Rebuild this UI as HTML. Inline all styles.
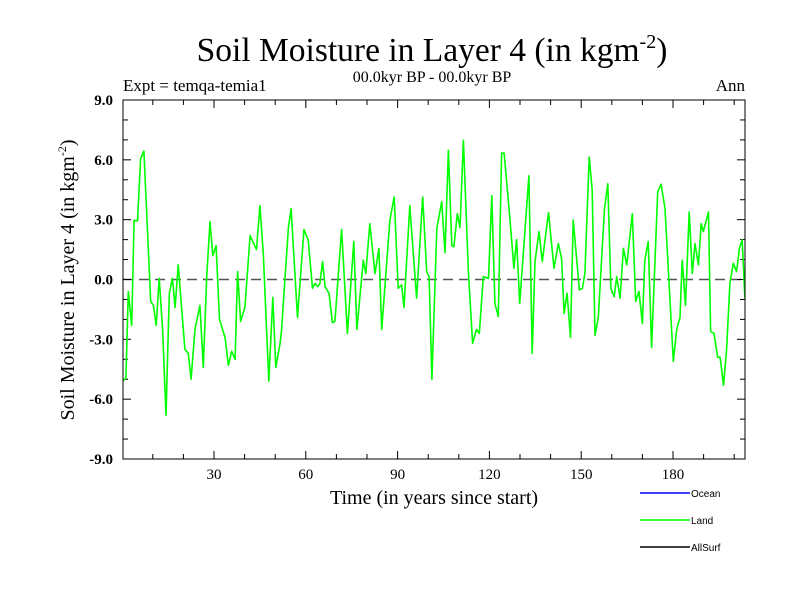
<!DOCTYPE html>
<html><head><meta charset="utf-8"><style>
body{margin:0;background:#fff}
svg text{font-family:"Liberation Serif",serif}
</style></head><body>
<svg width="800" height="600" viewBox="0 0 800 600">
<g id="plot"></g>
<text x="432" y="61" font-size="33.5" text-anchor="middle">Soil Moisture in Layer 4 (in kgm<tspan font-size="20" dy="-13">-2</tspan><tspan dy="13">)</tspan></text>
<text x="432" y="82" font-size="16" text-anchor="middle">00.0kyr BP - 00.0kyr BP</text>
<text x="123" y="91" font-size="17">Expt = temqa-temia1</text>
<text x="745" y="91" font-size="17" text-anchor="end">Ann</text>
<text x="434" y="504" font-size="20" text-anchor="middle">Time (in years since start)</text>
<text transform="translate(74,280) rotate(-90)" font-size="20" text-anchor="middle">Soil Moisture in Layer 4 (in kgm<tspan font-size="12" dy="-8">-2</tspan><tspan dy="8">)</tspan></text>
<g font-size="10">
<line x1="640" y1="493" x2="690" y2="493" stroke="#0000ff" stroke-width="1.5"/>
<text x="691" y="497" style="font-family:'Liberation Sans',sans-serif">Ocean</text>
<line x1="640" y1="520" x2="690" y2="520" stroke="#00ff00" stroke-width="1.5"/>
<text x="691" y="524" style="font-family:'Liberation Sans',sans-serif">Land</text>
<line x1="640" y1="547" x2="690" y2="547" stroke="#000" stroke-width="1.5"/>
<text x="691" y="551" style="font-family:'Liberation Sans',sans-serif">AllSurf</text>
</g>
</svg>
<script>
const years=[0,1.2,2,3.1,3.9,5,6,7.1,9.3,10.2,11.1,12.1,13.2,14.3,15.4,16.4,17.3,18.3,20.5,21.6,22.5,23.8,25.4,26.5,27.6,28.7,29.6,30.7,31.8,33.6,34.7,35.8,36.9,37.7,38.7,40.1,41.8,43.9,45,46.1,47.9,49.2,50.2,51.6,52.1,54.3,55.2,57.3,59.4,60.8,62.2,63,63.9,64.6,65.5,66.3,67.6,68.7,69.5,71.7,73.6,75.7,76.7,78.8,79.6,80.9,82.6,83.9,84.8,87.5,88.9,90.2,91.3,92.1,94,96.2,98.2,99.5,100.3,101.2,102.8,104.4,105.5,106.6,107.7,108.4,109.5,110.4,111.5,113.1,114.5,115.8,116.7,118,119.7,120.8,121.8,122.9,124,124.8,126.7,128,128.9,129.9,132.9,134,134.9,136.2,137.3,139.3,141.1,142.5,143.6,144.4,145.4,146.5,147.4,149.4,150.4,151.2,152.6,153.6,154.5,155.6,157.6,158.7,159.7,160.8,161.6,162.7,163.8,164.9,166.7,167.8,168.9,170,170.8,171.9,173,175,176.1,177.4,180.1,181.2,182.3,183,184.1,185.3,186.3,187.2,188.3,189.2,189.9,191.6,192.3,193.4,194.6,195.4,196.5,197.5,198.6,199.7,200.8,201.7,202.6,203.5];
const landValues=[-5.1,-4.95,-0.6,-2.3,2.97,2.94,6.06,6.44,-1.1,-1.3,-2.3,0.06,-2.5,-6.8,-0.7,0.06,-1.4,0.73,-3.5,-3.7,-5.0,-2.5,-1.3,-4.4,0.14,2.9,1.2,1.7,-2.0,-2.9,-4.3,-3.6,-4.0,0.4,-2.1,-1.4,2.2,1.5,3.7,1.3,-5.1,-0.9,-4.4,-3.2,-2.5,2.6,3.55,-1.9,2.5,1.98,-0.44,-0.2,-0.36,-0.2,0.9,-0.36,-0.7,-2.16,-2.1,2.5,-2.7,1.9,-2.5,0.97,0.3,2.8,0.3,1.56,-2.5,2.98,4.14,-0.44,-0.27,-1.4,3.7,-0.94,4.14,0.39,0.14,-5.0,2.56,3.9,1.34,6.48,1.7,1.64,3.3,2.6,6.98,0.48,-3.2,-2.5,-2.7,0.14,0.06,4.2,-1.2,-1.86,6.34,6.34,3.06,0.56,2.0,-1.2,5.2,-3.7,0.9,2.4,0.9,3.35,0.56,1.8,1.06,-1.7,-0.69,-2.9,2.98,-0.52,-0.44,0.3,6.14,4.47,-2.8,-1.9,3.56,4.8,-0.44,-0.86,0.14,-0.94,1.56,0.73,3.3,-1.1,-0.6,-2.2,0.97,1.9,-3.4,4.39,4.78,3.56,-4.1,-2.5,-1.9,0.97,-1.3,3.39,0.3,1.8,0.73,2.8,2.4,3.39,-2.6,-2.7,-3.9,-3.9,-5.3,-3.5,-0.19,0.81,0.39,1.56,1.98,-0.94];
const yTicks=[-9,-6,-3,0,3,6,9];
const yTickLabels=["-9.0","-6.0","-3.0","0.0","3.0","6.0","9.0"];
const xTicks=[30,60,90,120,150,180];
const xTickLabels=["30","60","90","120","150","180"];

const L=123,R=745,T=100,B=459,x0=122.2,pxPerYr=3.06;
const X=v=>x0+v*pxPerYr;
const Y=v=>279.5-v*(B-T)/18;
const NS="http://www.w3.org/2000/svg";
const g=document.getElementById('plot');
function mk(t,a){const e=document.createElementNS(NS,t);for(const k in a)e.setAttribute(k,a[k]);g.appendChild(e);return e;}
let z=mk('line',{x1:L,x2:R,y1:Y(0),y2:Y(0),stroke:'#555','stroke-width':1.5,'stroke-dasharray':'10,6'});


for(let v=-9;v<=9;v++){
 const len=yTicks.includes(v)?8:5;
 mk('line',{x1:L,x2:L+len,y1:Y(v),y2:Y(v),stroke:'#000'});
 mk('line',{x1:R,x2:R-len,y1:Y(v),y2:Y(v),stroke:'#000'});
}
yTicks.forEach((v,i)=>{
 const t=mk('text',{x:113,y:Y(v)+5,'font-size':15,'font-weight':'bold','text-anchor':'end'});
 t.textContent=yTickLabels[i];
 
 
});
for(let v=10;v<=200;v+=10){
 const len=xTicks.includes(v)?8:5;
 mk('line',{x1:X(v),x2:X(v),y1:B,y2:B-len,stroke:'#000'});
 mk('line',{x1:X(v),x2:X(v),y1:T,y2:T+len,stroke:'#000'});
}
xTicks.forEach((v,i)=>{
 const t=mk('text',{x:X(v),y:479,'font-size':15,'text-anchor':'middle'});
 t.textContent=xTickLabels[i];
 
 
});
const cp=document.createElementNS(NS,'clipPath');cp.setAttribute('id','clip');
const cr=document.createElementNS(NS,'rect');cr.setAttribute('x',L);cr.setAttribute('y',T);cr.setAttribute('width',R-L);cr.setAttribute('height',B-T);
cp.appendChild(cr);g.appendChild(cp);
const pts=years.map((y,i)=>X(y).toFixed(1)+','+Y(landValues[i]).toFixed(1)).join(' ');
const line=mk('polyline',{points:pts,fill:'none',stroke:'#00ff00','stroke-width':1.6,'clip-path':'url(#clip)','stroke-linejoin':'round'});


const fr=mk('rect',{x:L,y:T,width:R-L,height:B-T,fill:'none',stroke:'#000','stroke-width':1});


</script>
</body></html>
